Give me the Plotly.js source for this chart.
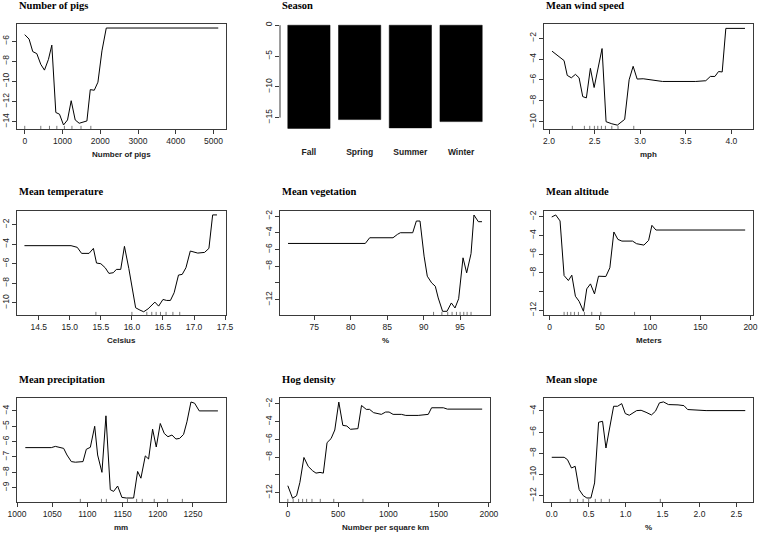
<!DOCTYPE html>
<html>
<head>
<meta charset="utf-8">
<script src="https://cdn.plot.ly/plotly-3.0.1.min.js"></script>
<style>html,body{margin:0;padding:0;background:#fff;}#chart{width:760px;height:534px;}</style>
</head>
<body>
<div id="chart"></div>
<script>
// ---------- DATA ----------
const pigsX = [0,115,212,319,425,522,628,717,823,920,1027,1133,1230,1336,1442,1646,1735,1841,1938,2044,2159,5124];
const pigsY = [-5.36,-5.8,-7.04,-7.24,-8.31,-8.88,-7.81,-6.4,-13.09,-13.26,-14.33,-13.83,-11.92,-13.83,-14.16,-13.93,-10.82,-10.88,-10.08,-6.97,-4.7,-4.7];
const pigsRug = [0,425,655,850,1050,1250,1490,1750];

const seasonNames = ["Fall","Spring","Summer","Winter"];
const seasonValues = [-16.75,-15.32,-16.67,-15.65];

const windX = [2.033,2.165,2.2,2.245,2.29,2.33,2.37,2.41,2.454,2.495,2.582,2.626,2.689,2.75,2.83,2.879,2.923,2.967,3.033,3.245,3.61,3.72,3.77,3.82,3.86,3.90,3.94,4.15];
const windY = [-3.25,-4.15,-5.57,-5.8,-5.47,-5.8,-7.6,-7.72,-4.89,-6.73,-3.0,-10.0,-10.2,-10.33,-9.78,-5.99,-4.7,-5.92,-5.89,-6.15,-6.15,-6.08,-5.67,-5.67,-5.2,-5.24,-1.07,-1.07];
const windRug = [2.256,2.388,2.447,2.498,2.535,2.575,2.619,2.689,2.757,2.93];

const tempX = [14.27,15.02,15.12,15.19,15.31,15.38,15.43,15.5,15.57,15.63,15.70,15.75,15.82,15.88,15.95,16.0,16.06,16.13,16.19,16.26,16.37,16.43,16.5,16.56,16.62,16.68,16.75,16.81,16.87,16.94,17.06,17.17,17.24,17.30,17.37];
const tempY = [-4.15,-4.15,-4.32,-4.94,-4.94,-4.43,-5.93,-6.0,-6.41,-6.99,-6.92,-6.58,-6.58,-4.22,-6.48,-8.29,-10.51,-10.75,-10.92,-10.62,-9.93,-10.34,-9.66,-9.76,-9.76,-8.97,-7.16,-7.09,-6.41,-4.7,-4.91,-4.84,-4.43,-1.0,-1.0];
const tempRug = [15.42,16.0,16.24,16.32,16.39,16.46,16.55,16.66,16.77];

const vegX = [71.4,82.0,82.6,85.8,86.4,86.8,88.5,89.0,89.5,90.06,90.5,91.1,91.6,92.0,92.6,93.2,93.8,94.3,94.8,95.4,95.9,96.5,96.9,97.5,98.0];
const vegY = [-5.28,-5.28,-4.6,-4.6,-4.2,-4.0,-4.0,-2.6,-2.6,-6.8,-9.2,-10.0,-10.4,-11.8,-13.4,-13.4,-12.4,-13.0,-11.9,-7.0,-8.8,-6.5,-1.88,-2.68,-2.68];
const vegRug = [91.36,92.5,93.3,93.9,94.5,95.0,95.5,95.96,96.5];

const altX = [2,6,10.3,14.3,18.6,22,25.6,29.3,33.6,36.9,40.6,44.6,48.6,55.9,59.9,63.9,67.9,71.9,82.5,86.5,93.8,98.5,101.8,105.8,194.7];
const altY = [-2.04,-1.82,-2.46,-8.29,-8.82,-8.25,-10.5,-11.04,-12.1,-9.71,-9.18,-10.25,-8.36,-8.39,-7.46,-3.64,-4.43,-4.61,-4.61,-4.89,-5.04,-4.54,-2.93,-3.43,-3.43];
const altRug = [14.3,17.6,21,24.6,28.6,34.6,41.9,50.9,84.5];

const precX = [1011.8,1048.8,1054.5,1060.6,1066.3,1071.0,1077.2,1082.9,1093.8,1098.5,1104.2,1110.4,1114.6,1120.7,1126.4,1132.6,1137.3,1143.0,1149.1,1155.3,1165.7,1171.4,1176.1,1182.3,1187.0,1192.7,1197.9,1203.6,1209.3,1214.5,1220.2,1225.8,1231.1,1236.7,1241.5,1247.2,1252.4,1259.0,1285.5];
const precY = [-6.39,-6.39,-6.31,-6.39,-6.44,-6.87,-7.3,-7.34,-7.3,-6.5,-6.37,-5.0,-6.87,-8.0,-4.32,-9.13,-9.24,-8.89,-9.63,-9.67,-9.67,-7.94,-8.38,-6.93,-7.13,-5.19,-6.35,-4.82,-5.47,-5.68,-5.57,-5.83,-5.79,-5.53,-4.71,-3.42,-3.5,-4.0,-4.0];
const precRug = [1090,1120,1127,1157,1170,1178,1195,1214,1235];

const hogX = [0,47,87,120,160,203,247,280,320,353,390,430,467,507,547,587,623,697,733,780,813,853,930,973,1007,1047,1130,1173,1297,1397,1430,1547,1587,1933];
const hogY = [-11.22,-12.63,-12.34,-10.84,-8.04,-9.05,-9.54,-9.8,-9.72,-9.8,-6.37,-5.92,-4.95,-1.81,-4.43,-4.5,-4.87,-4.8,-2.19,-2.63,-2.63,-3.0,-3.19,-2.93,-2.93,-3.19,-3.19,-3.31,-3.31,-3.19,-2.45,-2.45,-2.6,-2.6];
const hogRug = [0,53,107,147,187,240,323,457,747];

const slopeX = [0.0,0.168,0.213,0.267,0.317,0.371,0.426,0.475,0.53,0.58,0.634,0.688,0.734,0.788,0.838,0.892,0.947,0.996,1.05,1.15,1.21,1.277,1.35,1.404,1.458,1.513,1.58,1.71,1.79,1.84,2.09,2.62];
const slopeY = [-8.38,-8.38,-8.6,-9.39,-9.23,-11.43,-12.0,-12.22,-12.22,-10.8,-5.07,-4.98,-7.5,-5.45,-3.56,-3.56,-3.31,-4.25,-4.41,-3.97,-3.94,-4.13,-4.38,-4.03,-3.24,-3.15,-3.4,-3.43,-3.5,-3.87,-3.97,-3.97];
const slopeRug = [0.25,0.35,0.425,0.5,0.59,0.67,0.78,1.47];

const titles = ["Number of pigs","Season","Mean wind speed","Mean temperature","Mean vegetation","Mean altitude","Mean precipitation","Hog density","Mean slope"];
const xTitles = ["Number of pigs","","mph","Celsius","%","Meters","mm","Number per square km","%"];

const xTicks = [[0,1000,2000,3000,4000,5000],null,[2.0,2.5,3.0,3.5,4.0],[14.5,15.0,15.5,16.0,16.5,17.0,17.5],[75,80,85,90,95],[0,50,100,150,200],[1000,1050,1100,1150,1200,1250],[0,500,1000,1500,2000],[0.0,0.5,1.0,1.5,2.0,2.5]];
const xTickText = [["0","1000","2000","3000","4000","5000"],null,["2.0","2.5","3.0","3.5","4.0"],["14.5","15.0","15.5","16.0","16.5","17.0","17.5"],["75","80","85","90","95"],["0","50","100","150","200"],["1000","1050","1100","1150","1200","1250"],["0","500","1000","1500","2000"],["0.0","0.5","1.0","1.5","2.0","2.5"]];
const yTicks = [[-14,-12,-10,-8,-6],[0,-5,-10,-15],[-10,-8,-6,-4,-2],[-10,-8,-6,-4,-2],[-12,-10,-8,-6,-4,-2],[-12,-10,-8,-6,-4,-2],[-9,-8,-7,-6,-5,-4],[-12,-10,-8,-6,-4,-2],[-12,-10,-8,-6,-4]];
const yTickText = [["−14","−12","−10","−8","−6"],["0","−5","−10","−15"],["−10","−8","−6","−4","−2"],["−10","−8","−6","−4","−2"],["−12","","−8","−6","−4","−2"],["−12","","−8","−6","−4","−2"],["−9","−8","−7","−6","−5","−4"],["−12","","−8","−6","−4","−2"],["−12","−10","−8","−6","−4"]];

const xRanges = [[-205,5329],[-0.57,3.57],[1.945,4.238],[14.15,17.515],[70.3,99.1],[-5.7,202.5],[1000,1297],[-78,2011],[-0.105,2.725]];
const yRanges = [[-14.73,-4.3],[-16.85,0.2],[-10.7,-0.65],[-11.25,-0.6],[-13.84,-1.4],[-12.5,-1.4],[-9.93,-3.16],[-13.05,-1.35],[-12.6,-2.78]];

// ---------- LAYOUT ----------
const W = 760, H = 534;
const colPx = [[17,226],[280,490],[544,753]];
const rowPx = [[24,129],[211,315],[398,502]];

const lineSeries = {1:[pigsX,pigsY,pigsRug],3:[windX,windY,windRug],4:[tempX,tempY,tempRug],5:[vegX,vegY,vegRug],6:[altX,altY,altRug],7:[precX,precY,precRug],8:[hogX,hogY,hogRug],9:[slopeX,slopeY,slopeRug]};

const sans = "Liberation Sans, Arial, sans-serif";
const serif = "Liberation Serif, Times New Roman, serif";

const traces = [];
const shapes = [];
const annotations = [];
const layout = {
  width: W, height: H,
  margin: {l:0,r:0,t:0,b:0},
  paper_bgcolor: "#fff", plot_bgcolor: "#fff",
  showlegend: false,
  bargap: 0.1667,
  shapes: shapes, annotations: annotations
};

for (let i = 1; i <= 9; i++) {
  const r = Math.floor((i-1)/3), c = (i-1)%3;
  const xs = i === 1 ? "" : String(i);
  const xd = [colPx[c][0]/W, colPx[c][1]/W];
  const yd = [1 - rowPx[r][1]/H, 1 - rowPx[r][0]/H];
  const isBar = (i === 2);
  layout["xaxis"+xs] = {
    domain: xd, anchor: "y"+xs, range: xRanges[i-1],
    showline: !isBar, mirror: true, linecolor: "#3a3a3a", linewidth: 1,
    ticks: isBar ? "" : "outside", ticklen: 4, tickcolor: "#3a3a3a", tickwidth: 1,
    showgrid: false, zeroline: false,
    tickfont: {family: sans, size: 8.5, color: "#222", weight: isBar ? "bold" : "normal"},
    ticklabelstandoff: isBar ? 16 : 1.5
  };
  if (!isBar) {
    layout["xaxis"+xs].tickmode = "array";
    layout["xaxis"+xs].tickvals = xTicks[i-1];
    layout["xaxis"+xs].ticktext = xTickText[i-1];
  }
  layout["yaxis"+xs] = {
    domain: yd, anchor: "x"+xs, range: yRanges[i-1],
    showline: !isBar, mirror: true, linecolor: "#3a3a3a", linewidth: 1,
    ticks: "outside", ticklen: 4, tickcolor: "#3a3a3a", tickwidth: 1,
    showgrid: false, zeroline: false, tickangle: -90,
    tickmode: "array", tickvals: yTicks[i-1], ticktext: yTickText[i-1],
    tickfont: {family: sans, size: 8.5, color: "#222"},
    ticklabelstandoff: 2.5
  };

  annotations.push({
    text: "<b>" + titles[i-1] + "</b>", showarrow: false,
    xref: "x"+xs+" domain", yref: "y"+xs+" domain", x: 0, y: 1,
    xanchor: "left", yanchor: "middle", yshift: 19,
    font: {family: serif, size: 10.5, color: "#000"}
  });
  if (xTitles[i-1]) {
    annotations.push({
      text: "<b>" + xTitles[i-1] + "</b>", showarrow: false,
      xref: "x"+xs+" domain", yref: "y"+xs+" domain", x: 0.5, y: 0,
      xanchor: "center", yanchor: "middle", yshift: -25,
      font: {family: sans, size: 8, color: "#222"}
    });
  }

  if (isBar) {
    traces.push({type: "bar", x: seasonNames, y: seasonValues, xaxis: "x2", yaxis: "y2",
      marker: {color: "#000", line: {color: "#000", width: 0.5}}, hoverinfo: "skip"});
    shapes.push({type: "line", xref: "x2 domain", yref: "y2", x0: 0, x1: 0,
      y0: yTicks[1][0], y1: yTicks[1][yTicks[1].length-1], line: {color: "#3a3a3a", width: 1}});
  } else {
    const [sx, sy, rug] = lineSeries[i];
    traces.push({type: "scatter", mode: "lines", x: sx, y: sy, xaxis: "x"+xs, yaxis: "y"+xs,
      line: {color: "#000", width: 1}, hoverinfo: "skip"});
    rug.forEach(v => shapes.push({type: "line", xref: "x"+xs, yref: "y"+xs+" domain",
      x0: v, x1: v, y0: 0, y1: 0.03, line: {color: "#555", width: 0.8}}));
  }
}

Plotly.newPlot("chart", traces, layout, {staticPlot: true});
</script>
</body>
</html>
